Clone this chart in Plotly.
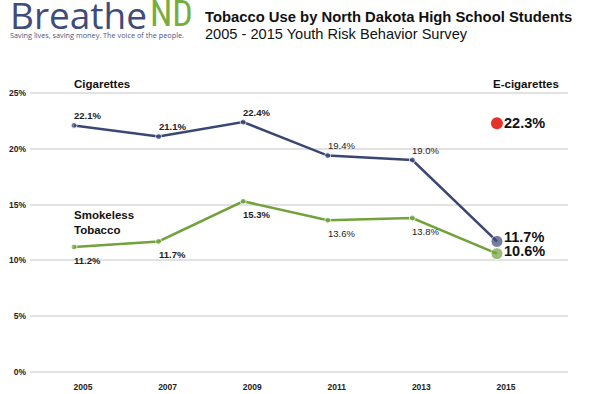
import plotly.graph_objects as go

years = [2005, 2007, 2009, 2011, 2013, 2015]
cigarettes = [22.1, 21.1, 22.4, 19.4, 19.0, 11.7]
smokeless = [11.2, 11.7, 15.3, 13.6, 13.8, 10.6]
ecig_year = [2015]
ecig = [22.3]
y_ticks = [0, 5, 10, 15, 20, 25]
y_tick_labels = ["0%", "5%", "10%", "15%", "20%", "25%"]

NAVY = "#3b4773"
GREEN = "#72a23c"
RED = "#e5332a"
FONT = "Arial, Liberation Sans, sans-serif"

W, H = 600, 394
L, R, T, B = 30, 32, 92, 21


def px(xp):
    return (xp - L) / (W - L - R)


def py(yp):
    return (H - B - yp) / (H - T - B)


fig = go.Figure()

fig.add_trace(go.Scatter(
    x=years, y=cigarettes, mode="lines+markers",
    line=dict(color=NAVY, width=2.5),
    marker=dict(color=NAVY, size=[6, 6, 6, 6, 6, 12]),
    hoverinfo="skip", showlegend=False, cliponaxis=False))
fig.add_trace(go.Scatter(
    x=years, y=smokeless, mode="lines+markers",
    line=dict(color=GREEN, width=2.5),
    marker=dict(color=GREEN, size=[6, 6, 6, 6, 6, 12]),
    hoverinfo="skip", showlegend=False, cliponaxis=False))
fig.add_trace(go.Scatter(
    x=ecig_year, y=ecig, mode="markers",
    marker=dict(color=RED, size=12),
    hoverinfo="skip", showlegend=False, cliponaxis=False))

ann = []
for i, (yr, v) in enumerate(zip(years, cigarettes)):
    if i == len(years) - 1:
        ann.append(dict(x=yr, y=v, text="<b>%.1f%%</b>" % v, xanchor="left", yanchor="middle",
                        xshift=5, yshift=4, showarrow=False,
                        font=dict(family=FONT, size=14.5, color="#111")))
    else:
        t = "%.1f%%" % v
        if i < 3:
            t = "<b>" + t + "</b>"
        ann.append(dict(x=yr, y=v, text=t, xanchor="left", yanchor="middle",
                        xshift=-2, yshift=10, showarrow=False,
                        font=dict(family=FONT, size=9.5, color="#222")))
for i, (yr, v) in enumerate(zip(years, smokeless)):
    if i == len(years) - 1:
        ann.append(dict(x=yr, y=v, text="<b>%.1f%%</b>" % v, xanchor="left", yanchor="middle",
                        xshift=5, yshift=3, showarrow=False,
                        font=dict(family=FONT, size=14.5, color="#111")))
    else:
        t = "%.1f%%" % v
        if i < 3:
            t = "<b>" + t + "</b>"
        ann.append(dict(x=yr, y=v, text=t, xanchor="left", yanchor="middle",
                        xshift=-2, yshift=-13, showarrow=False,
                        font=dict(family=FONT, size=9.5, color="#222")))
for yr, v in zip(ecig_year, ecig):
    ann.append(dict(x=yr, y=v, text="<b>%.1f%%</b>" % v, xanchor="left", yanchor="middle",
                    xshift=5, yshift=0, showarrow=False,
                    font=dict(family=FONT, size=14.5, color="#111")))

# series names
ann.append(dict(xref="paper", yref="paper", x=px(72), y=py(84), text="<b>Cigarettes</b>",
                xanchor="left", yanchor="middle", showarrow=False,
                font=dict(family=FONT, size=11.5, color="#111")))
ann.append(dict(xref="paper", yref="paper", x=px(526), y=py(84), text="<b>E-cigarettes</b>",
                xanchor="center", yanchor="middle", showarrow=False,
                font=dict(family=FONT, size=11.5, color="#111")))
ann.append(dict(x=2005, y=13.44, text="<b>Smokeless<br>Tobacco</b>", xanchor="left", yanchor="middle",
                align="left", xshift=-2, showarrow=False,
                font=dict(family=FONT, size=11.5, color="#111")))

# titles
ann.append(dict(xref="paper", yref="paper", x=px(203), y=py(17),
                text="<b>Tobacco Use by North Dakota High School Students</b>",
                xanchor="left", yanchor="middle", showarrow=False,
                font=dict(family=FONT, size=14.8, color="#111")))
ann.append(dict(xref="paper", yref="paper", x=px(203), y=py(34),
                text="2005 - 2015 Youth Risk Behavior Survey",
                xanchor="left", yanchor="middle", showarrow=False,
                font=dict(family=FONT, size=14.6, color="#111")))
# logo text
ann.append(dict(xref="paper", yref="paper", x=px(8), y=py(14),
                text="Breathe", xanchor="left", yanchor="middle", showarrow=False,
                font=dict(family="Open Sans", size=37, color="#3f4b7b")))
ann.append(dict(xref="paper", yref="paper", x=px(195), y=py(14),
                text="ND", xanchor="right", yanchor="middle", showarrow=False,
                font=dict(family="Liberation Sans Narrow, Roboto Condensed, Open Sans", size=36,
                          color="#76ad3f")))
ann.append(dict(xref="paper", yref="paper", x=px(8), y=py(35),
                text="Saving lives, saving money. The voice of the people.",
                xanchor="left", yanchor="middle", showarrow=False,
                font=dict(family="Open Sans", size=7.3, color="#4a5683")))

fig.update_layout(
    width=W, height=H,
    margin=dict(l=L, r=R, t=T, b=B, autoexpand=False),
    paper_bgcolor="white", plot_bgcolor="white",
    annotations=ann,
    xaxis=dict(range=[2003.96, 2016.68], tickmode="array", tickvals=years,
               ticktext=[str(y) for y in years], showgrid=False, zeroline=False,
               showline=False, ticks="", ticklabelshift=9, ticklabelstandoff=7,
               automargin=False,
               tickfont=dict(family=FONT, size=8.5, color="#222", weight="bold"),
               fixedrange=True),
    yaxis=dict(range=[-0.1, 25.1], tickmode="array", tickvals=y_ticks, ticktext=y_tick_labels,
               showgrid=True, gridcolor="#e2e2e2", gridwidth=1.5, zeroline=False,
               showline=False, ticks="", ticklabelstandoff=3, automargin=False,
               tickfont=dict(family=FONT, size=8.5, color="#222", weight="bold"),
               fixedrange=True),
)

fig.write_html("out.html", config={"displayModeBar": False},
               post_script="document.body.style.margin='0';")
